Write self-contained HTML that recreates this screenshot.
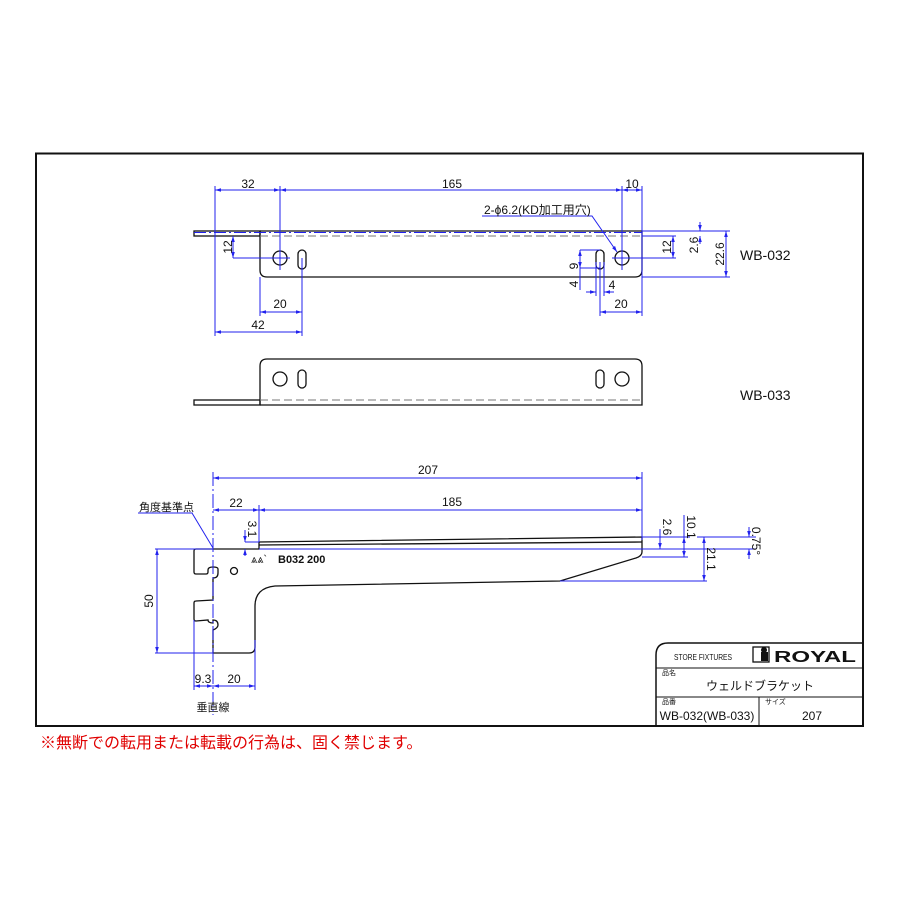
<!DOCTYPE html>
<html><head><meta charset="utf-8"><style>
html,body{margin:0;padding:0;background:#fff;width:900px;height:900px;overflow:hidden}
svg{display:block}
text{font-family:"Liberation Sans","Noto Sans CJK JP",sans-serif;fill:#111}
.b{stroke:#2222ee;stroke-width:1;fill:none}
.k{stroke:#111;stroke-width:1.3;fill:none}
</style></head><body>
<svg width="900" height="900" viewBox="0 0 900 900" xmlns="http://www.w3.org/2000/svg">
<defs>
<marker id="a" viewBox="0 0 10 10" refX="10" refY="5" markerWidth="6" markerHeight="6" orient="auto-start-reverse"><path d="M0,2 L10,5 L0,8z" fill="#2222ee"/></marker>
</defs>
<rect x="36" y="153.5" width="827" height="572.5" fill="none" stroke="#111" stroke-width="2"/>

<!-- WB-032 top view -->
<rect x="194" y="231" width="66" height="5" class="k" stroke-width="1"/>
<path class="k" d="M260,231 H642 V270 Q642,277 635,277 H267 Q260,277 260,270 V231"/>
<line x1="260" y1="236" x2="642" y2="236" stroke="#777" stroke-dasharray="8,4"/>
<line x1="194" y1="232.5" x2="642" y2="232.5" class="b" stroke-dasharray="12,3,2,3"/>
<circle cx="280" cy="258" r="7" class="k"/>
<rect x="298" y="250" width="8" height="19" rx="4" class="k"/>
<circle cx="622" cy="258" r="7" class="k"/>
<rect x="596" y="250" width="8" height="19" rx="4" class="k"/>
<g class="b">
<line x1="215" y1="186" x2="215" y2="336"/><line x1="280" y1="186" x2="280" y2="270"/><line x1="622" y1="186" x2="622" y2="270"/><line x1="642" y1="186" x2="642" y2="316"/>
<line x1="215" y1="190" x2="280" y2="190" marker-start="url(#a)" marker-end="url(#a)"/>
<line x1="280" y1="190" x2="622" y2="190" marker-start="url(#a)" marker-end="url(#a)"/>
<line x1="622" y1="190" x2="642" y2="190" marker-start="url(#a)" marker-end="url(#a)"/>
<line x1="233" y1="258" x2="290" y2="258"/><line x1="233" y1="236" x2="233" y2="258" marker-start="url(#a)" marker-end="url(#a)"/>
<line x1="260" y1="277" x2="260" y2="316"/><line x1="302" y1="258" x2="302" y2="336"/>
<line x1="260" y1="312" x2="302" y2="312" marker-start="url(#a)" marker-end="url(#a)"/>
<line x1="215" y1="332" x2="302" y2="332" marker-start="url(#a)" marker-end="url(#a)"/>
<line x1="612" y1="258" x2="676" y2="258"/><line x1="642" y1="236" x2="676" y2="236"/>
<line x1="673" y1="236" x2="673" y2="258" marker-start="url(#a)" marker-end="url(#a)"/>
<line x1="642" y1="231" x2="730" y2="231"/><line x1="642" y1="277" x2="730" y2="277"/>
<line x1="700" y1="222" x2="700" y2="231" marker-end="url(#a)"/><line x1="700" y1="236" x2="700" y2="244" marker-start="url(#a)"/>
<line x1="726" y1="231" x2="726" y2="277" marker-start="url(#a)" marker-end="url(#a)"/>
<line x1="580" y1="250" x2="600" y2="250"/><line x1="580" y1="268" x2="600" y2="268"/>
<line x1="580" y1="250" x2="580" y2="268" marker-start="url(#a)" marker-end="url(#a)"/>
<line x1="580" y1="268" x2="580" y2="290"/>
<line x1="596" y1="262" x2="596" y2="296"/><line x1="604" y1="262" x2="604" y2="296"/>
<line x1="586" y1="292" x2="596" y2="292" marker-end="url(#a)"/><line x1="604" y1="292" x2="614" y2="292" marker-start="url(#a)"/>
<line x1="600" y1="262" x2="600" y2="316"/>
<line x1="600" y1="312" x2="642" y2="312" marker-start="url(#a)" marker-end="url(#a)"/>
<polyline points="482,216 592,216 617,252" marker-end="url(#a)"/>
</g>
<g font-size="12">
<text x="248" y="188" text-anchor="middle">32</text>
<text x="452" y="188" text-anchor="middle">165</text>
<text x="632" y="188" text-anchor="middle">10</text>
<text x="280" y="308" text-anchor="middle">20</text>
<text x="258" y="329" text-anchor="middle">42</text>
<text x="621" y="308" text-anchor="middle">20</text>
<text x="612" y="289" text-anchor="middle">4</text>
<text x="484" y="214">2-ϕ6.2(KD加工用穴)</text>
<text transform="translate(232,247) rotate(-90)" text-anchor="middle">12</text>
<text transform="translate(671,247) rotate(-90)" text-anchor="middle">12</text>
<text transform="translate(698,245) rotate(-90)" text-anchor="middle">2.6</text>
<text transform="translate(724,254) rotate(-90)" text-anchor="middle">22.6</text>
<text transform="translate(578,266) rotate(-90)" text-anchor="middle">9</text>
<text transform="translate(578,284) rotate(-90)" text-anchor="middle">4</text>
</g>
<text x="740" y="260" font-size="14">WB-032</text>

<!-- WB-033 -->
<rect x="194" y="400" width="66" height="5" class="k" stroke-width="1"/>
<path class="k" d="M260,405 V366 Q260,359 267,359 H635 Q642,359 642,366 V405 H260"/>
<line x1="260" y1="400" x2="642" y2="400" stroke="#777" stroke-dasharray="8,4"/>
<circle cx="280" cy="379" r="7" class="k"/>
<rect x="298" y="370" width="8" height="18" rx="4" class="k"/>
<circle cx="622" cy="379" r="7" class="k"/>
<rect x="596" y="370" width="8" height="18" rx="4" class="k"/>
<text x="740" y="400" font-size="14">WB-033</text>

<!-- Side view -->
<path class="k" d="M213,549 H259 V542 L642,537 V552 Q642,556 636,558 L560,581 L275,586 Q255,588 255,606 V647 Q255,653 249,653 H213 V630 Q218,628 218,625 Q218,620 213,620 V623 Q208,623 208,620 L196,621 Q194,621 194,619 V603 Q194,601 196,601 L213,600 V578 Q218,578 218,573 V569 Q218,567 213,567 Q208,567 208,570 V572 Q208,574 206,574 H196 Q194,574 194,572 V551 Q194,549 196,549 Z"/>
<line x1="259" y1="545" x2="642" y2="542" class="k"/>
<circle cx="234" cy="571" r="3.5" class="k"/>
<text x="251" y="563" font-size="11">⩓⩓`</text>
<text x="278" y="563" font-size="11" font-weight="bold">B032</text>
<text x="307" y="563" font-size="11" font-weight="bold">200</text>
<g class="b">
<line x1="213" y1="472" x2="213" y2="715" stroke-dasharray="14,3,2,3"/>
<line x1="642" y1="472" x2="642" y2="540"/><line x1="259" y1="505" x2="259" y2="542"/>
<line x1="213" y1="478" x2="642" y2="478" marker-start="url(#a)" marker-end="url(#a)"/>
<line x1="213" y1="510" x2="259" y2="510" marker-start="url(#a)" marker-end="url(#a)"/>
<line x1="259" y1="510" x2="642" y2="510" marker-start="url(#a)" marker-end="url(#a)"/>
<line x1="245" y1="542" x2="259" y2="542"/>
<line x1="245" y1="530" x2="245" y2="542" marker-end="url(#a)"/><line x1="245" y1="549" x2="245" y2="556" marker-start="url(#a)"/>
<line x1="155" y1="549" x2="213" y2="549"/><line x1="155" y1="653" x2="213" y2="653"/>
<line x1="157" y1="549" x2="157" y2="653" marker-start="url(#a)" marker-end="url(#a)"/>
<line x1="194" y1="620" x2="194" y2="690"/><line x1="255" y1="640" x2="255" y2="690"/>
<line x1="194" y1="686" x2="213" y2="686" marker-start="url(#a)" marker-end="url(#a)"/>
<line x1="213" y1="686" x2="255" y2="686" marker-start="url(#a)" marker-end="url(#a)"/>
<polyline points="138,513 192,513 213,548"/>
<line x1="259" y1="549" x2="756" y2="549"/>
<line x1="642" y1="537" x2="690" y2="537"/><line x1="697" y1="537" x2="756" y2="537"/>
<line x1="642" y1="557" x2="688" y2="557"/>
<line x1="560" y1="581" x2="707" y2="581"/>
<line x1="660" y1="529" x2="660" y2="549" marker-end="url(#a)"/>
<line x1="684" y1="515" x2="684" y2="537" /><line x1="684" y1="537" x2="684" y2="557" marker-start="url(#a)" marker-end="url(#a)"/>
<line x1="704" y1="537" x2="704" y2="581" marker-start="url(#a)" marker-end="url(#a)"/>
<line x1="749" y1="527" x2="749" y2="537" marker-end="url(#a)"/><line x1="749" y1="549" x2="749" y2="559" marker-start="url(#a)"/>
</g>
<g font-size="12">
<text x="428" y="474" text-anchor="middle">207</text>
<text x="452" y="506" text-anchor="middle">185</text>
<text x="236" y="507" text-anchor="middle">22</text>
<text x="139" y="511" font-size="11">角度基準点</text>
<text transform="translate(248,529) rotate(90)" text-anchor="middle">3.1</text>
<text transform="translate(153,601) rotate(-90)" text-anchor="middle">50</text>
<text x="203" y="683" text-anchor="middle">9.3</text>
<text x="234" y="683" text-anchor="middle">20</text>
<text x="213" y="711" text-anchor="middle" font-size="11">垂直線</text>
<text transform="translate(663,527) rotate(90)" text-anchor="middle">2.6</text>
<text transform="translate(687,527) rotate(90)" text-anchor="middle">10.1</text>
<text transform="translate(707,559) rotate(90)" text-anchor="middle">21.1</text>
<text transform="translate(752,541) rotate(90)" text-anchor="middle">0.75°</text>
</g>

<!-- Title block -->
<path d="M863,643 H668 Q656,643 656,655 V726" fill="none" stroke="#111" stroke-width="1.5"/>
<line x1="656" y1="668" x2="863" y2="668" stroke="#111"/>
<line x1="656" y1="697" x2="863" y2="697" stroke="#111"/>
<line x1="759" y1="697" x2="759" y2="726" stroke="#111"/>
<text x="703" y="660" font-size="8.5" text-anchor="middle" textLength="58" lengthAdjust="spacingAndGlyphs">STORE FIXTURES</text>
<rect x="753" y="647" width="16" height="15" fill="none" stroke="#111" stroke-width="1.3"/>
<rect x="761" y="652" width="7" height="9" fill="#111"/>
<circle cx="764" cy="650" r="3" fill="#111"/>
<text x="774" y="662" font-size="16" font-weight="bold" textLength="82" lengthAdjust="spacingAndGlyphs">ROYAL</text>
<text x="662" y="675" font-size="7">品名</text>
<text x="760" y="690" font-size="12" text-anchor="middle">ウェルドブラケット</text>
<text x="662" y="704" font-size="7">品番</text>
<text x="765" y="704" font-size="7">サイズ</text>
<text x="707" y="720" font-size="12" text-anchor="middle">WB-032(WB-033)</text>
<text x="812" y="720" font-size="12" text-anchor="middle">207</text>

<text x="40" y="748" font-size="16" style="fill:#e00000">※無断での転用または転載の行為は、固く禁じます。</text>
</svg>
</body></html>
